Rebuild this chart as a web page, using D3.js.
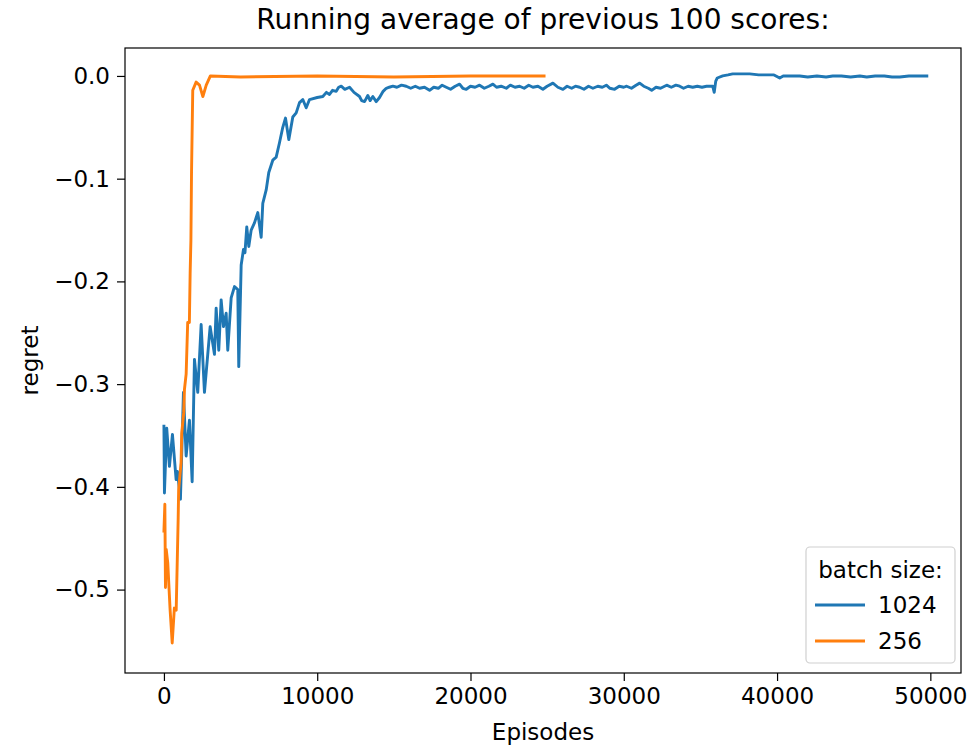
<!DOCTYPE html>
<html>
<head>
<meta charset="utf-8">
<script src="https://cdn.jsdelivr.net/npm/d3@7"></script>
<style>
  html, body { margin: 0; padding: 0; background: #fff; }
  svg text { font-family: "DejaVu Sans", sans-serif; fill: #000; }
</style>
</head>
<body>
<svg id="chart" width="973" height="747"></svg>
<script>
// ---- data ----
const seriesNames = ["1024", "256"];
const seriesColors = ["#1f77b4", "#ff7f0e"];
const xTicks = [0, 10000, 20000, 30000, 40000, 50000];
const yTicks = [0.0, -0.1, -0.2, -0.3, -0.4, -0.5];

// batch size 1024: episodes and regret
const blueEpisodes = [0, 33, 183, 359, 555, 796, 881, 1077, 1273, 1449, 1664, 1841, 1991, 2206, 2428, 2643, 2859, 3015, 3296, 3407, 3577, 3733, 3884, 4060, 4164, 4386, 4602, 4817, 4882, 5039, 5189, 5287, 5404, 5535, 5692, 5907, 6122, 6344, 6449, 6671, 6840, 7101, 7323, 7539, 7754, 7930, 8146, 8407, 8629, 8844, 9060, 9281, 9497,
  10000, 10365, 10600, 10802, 11000, 11239, 11400, 11566, 11800, 12108, 12400, 12760, 12900, 13087, 13300, 13450, 13628, 13850, 14066, 14300, 14503, 14700, 14934, 15200, 15500, 15808, 16100, 16400, 16677, 17000, 17330, 17600, 17900, 18150, 18419, 18700, 19000, 19287, 19500, 19724,
  20000, 20300, 20593, 20900, 21200, 21461, 21700, 22000, 22336, 22600, 22900, 23204, 23500, 23800, 24071, 24400, 24724, 25000, 25377, 25700, 26030, 26300, 26600, 26850, 27120, 27400, 27700, 27987, 28300, 28600, 28862, 29100, 29400, 29700,
  30000, 30188, 30500, 30800, 31036, 31300, 31600, 31819, 32100, 32400, 32798, 33100, 33400, 33647, 33900, 34200, 34495, 34800, 35100, 35400, 35801, 35900, 36000, 36100, 36454, 36800, 37106, 37600, 38216, 38800, 39326, 39800,
  40174, 40400, 40900, 41480, 42000, 42600, 43200, 43634, 44200, 44800, 45400, 45853, 46400, 47000, 47500, 48007, 48600, 49200, 49770];
const blueValues = [-0.341, -0.406, -0.343, -0.380, -0.349, -0.393, -0.385, -0.412, -0.308, -0.370, -0.335, -0.395, -0.276, -0.308, -0.242, -0.308, -0.271, -0.244, -0.271, -0.226, -0.267, -0.218, -0.244, -0.231, -0.267, -0.216, -0.205, -0.208, -0.283, -0.184, -0.169, -0.172, -0.147, -0.166, -0.150, -0.143, -0.133, -0.157, -0.124, -0.111, -0.094, -0.082, -0.079, -0.065, -0.050, -0.041, -0.062, -0.040, -0.036, -0.026, -0.023, -0.031, -0.023,
  -0.021, -0.020, -0.016, -0.018, -0.014, -0.015, -0.011, -0.010, -0.013, -0.011, -0.016, -0.020, -0.024, -0.025, -0.019, -0.024, -0.020, -0.025, -0.021, -0.015, -0.012, -0.011, -0.010, -0.011, -0.009, -0.010, -0.012, -0.010, -0.012, -0.011, -0.014, -0.011, -0.012, -0.009, -0.011, -0.013, -0.010, -0.008, -0.012, -0.013,
  -0.010, -0.011, -0.009, -0.012, -0.010, -0.008, -0.011, -0.010, -0.012, -0.009, -0.011, -0.010, -0.012, -0.009, -0.011, -0.010, -0.013, -0.010, -0.007, -0.011, -0.013, -0.010, -0.012, -0.010, -0.011, -0.013, -0.010, -0.012, -0.010, -0.011, -0.009, -0.012, -0.013, -0.010,
  -0.011, -0.010, -0.012, -0.009, -0.007, -0.010, -0.012, -0.014, -0.011, -0.012, -0.009, -0.011, -0.009, -0.010, -0.012, -0.010, -0.011, -0.010, -0.011, -0.010, -0.010, -0.016, -0.005, -0.002, 0.000, 0.001, 0.002, 0.002, 0.002, 0.001, 0.001, 0.001,
  -0.002, 0.000, 0.000, 0.000, -0.001, 0.000, -0.001, 0.000, 0.000, -0.001, 0.000, -0.001, 0.000, 0.000, -0.001, -0.001, 0.000, 0.000, 0.000];

// batch size 256: episodes and regret
const orangeEpisodes = [0, 60, 100, 150, 250, 400, 540, 680, 800, 930, 960, 1120, 1160, 1290, 1340, 1450, 1550, 1660, 1710, 1760, 1800, 1880, 2100, 2320, 2540, 2760, 3030, 5000, 10000, 15000, 20000, 24800];
const orangeValues = [-0.443, -0.417, -0.498, -0.461, -0.474, -0.519, -0.552, -0.518, -0.520, -0.430, -0.403, -0.376, -0.348, -0.328, -0.305, -0.290, -0.240, -0.240, -0.192, -0.160, -0.094, -0.014, -0.006, -0.009, -0.020, -0.009, 0.000, -0.001, 0.000, -0.001, 0.000, 0.000];

// ---- layout ----
const svg = d3.select("#chart");
const pLeft = 125, pRight = 961, pTop = 48, pBottom = 673;
const fs = 23;

const x = d3.scaleLinear().domain([-2540, 52000]).range([pLeft, pRight]);
const y = d3.scaleLinear().domain([-0.5812, 0.0272]).range([pBottom, pTop]);

const fmtY = d => (d < 0 ? "\u2212" : "") + Math.abs(d).toFixed(1);

// axes
const xAxis = d3.axisBottom(x).tickValues(xTicks).tickFormat(d3.format("d")).tickSizeOuter(0).tickSize(8).tickPadding(7);
const yAxis = d3.axisLeft(y).tickValues(yTicks).tickFormat(fmtY).tickSizeOuter(0).tickSize(8).tickPadding(7);

const gx = svg.append("g").attr("transform", `translate(0,${pBottom})`).call(xAxis);
const gy = svg.append("g").attr("transform", `translate(${pLeft},0)`).call(yAxis);
[gx, gy].forEach(g => {
  g.select(".domain").remove();
  g.selectAll("line").attr("stroke", "#000").attr("stroke-width", 1.2);
  g.selectAll("text").style("font-family", "DejaVu Sans").style("font-size", fs + "px").attr("fill", "#222");
});

// clip
svg.append("clipPath").attr("id", "clip").append("rect")
  .attr("x", pLeft).attr("y", pTop).attr("width", pRight - pLeft).attr("height", pBottom - pTop);

const line = d3.line().x(d => x(d[0])).y(d => y(d[1]));
const blueData = blueEpisodes.map((e, i) => [e, blueValues[i]]);
const orangeData = orangeEpisodes.map((e, i) => [e, orangeValues[i]]);

const plot = svg.append("g").attr("clip-path", "url(#clip)");
[blueData, orangeData].forEach((data, i) => {
  plot.append("path").datum(data)
    .attr("d", line)
    .attr("fill", "none")
    .attr("stroke", seriesColors[i])
    .attr("stroke-width", 2.9)
    .attr("stroke-linejoin", "round")
    .attr("stroke-linecap", "square");
});

// frame
svg.append("rect").attr("x", pLeft).attr("y", pTop).attr("width", pRight - pLeft).attr("height", pBottom - pTop)
  .attr("fill", "none").attr("stroke", "#000").attr("stroke-width", 1.2);

// title and labels
svg.append("text").attr("x", (pLeft + pRight) / 2).attr("y", 29).attr("text-anchor", "middle")
  .style("font-size", "28px").attr("fill", "#111").text("Running average of previous 100 scores:");
svg.append("text").attr("x", (pLeft + pRight) / 2).attr("y", 740).attr("text-anchor", "middle")
  .style("font-size", fs + "px").attr("fill", "#222").text("Episodes");
svg.append("text").attr("transform", `translate(38,${(pTop + pBottom) / 2}) rotate(-90)`).attr("text-anchor", "middle")
  .style("font-size", fs + "px").attr("fill", "#222").text("regret");

// legend
const lg = svg.append("g");
lg.append("rect").attr("x", 806).attr("y", 547).attr("width", 149).attr("height", 116).attr("rx", 4)
  .attr("fill", "#fff").attr("fill-opacity", 0.8).attr("stroke", "#d0d0d0").attr("stroke-width", 1.2);
lg.append("text").attr("x", 880.5).attr("y", 578).attr("text-anchor", "middle").style("font-size", fs + "px").attr("fill", "#222").text("batch size:");
seriesNames.forEach((name, i) => {
  const yy = 605 + i * 36;
  lg.append("line").attr("x1", 815).attr("x2", 865).attr("y1", yy).attr("y2", yy)
    .attr("stroke", seriesColors[i]).attr("stroke-width", 2.9);
  lg.append("text").attr("x", 878).attr("y", yy + 8).style("font-size", fs + "px").attr("fill", "#222").text(name);
});
</script>
</body>
</html>
